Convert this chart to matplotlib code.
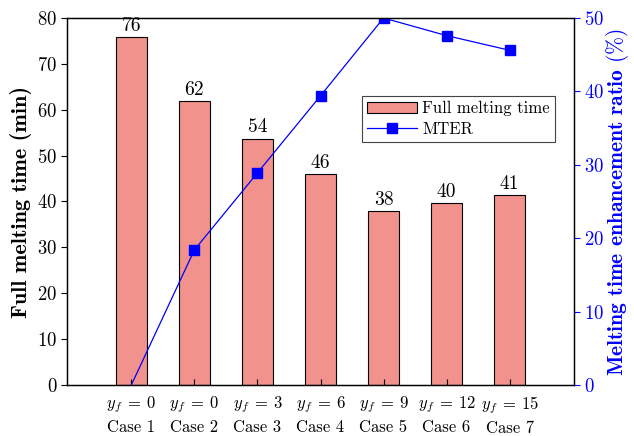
import matplotlib
matplotlib.use("Agg")
import matplotlib.pyplot as plt
import numpy as np

plt.rcParams['font.family'] = ['cmr10', 'DejaVu Serif']
plt.rcParams['mathtext.fontset'] = 'cm'
plt.rcParams['axes.formatter.use_mathtext'] = True

cases = ["Case 1", "Case 2", "Case 3", "Case 4", "Case 5", "Case 6", "Case 7"]
yf = ["0", "0", "3", "6", "9", "12", "15"]
melt_time = [75.9, 61.9, 53.7, 46.0, 37.9, 39.7, 41.4]
bar_labels = ["76", "62", "54", "46", "38", "40", "41"]
mter = [0.0, 18.4, 28.9, 39.4, 50.0, 47.6, 45.6]

fig = plt.figure(figsize=(6.34, 4.36), dpi=100)
ax = fig.add_axes([67/634, 1-385/436, (574-67)/634, (385-18)/436])
x = np.arange(len(cases))
bars = ax.bar(x, melt_time, width=0.5, color='#F1928C', edgecolor='black',
              linewidth=0.8, label='Full melting time')
for xi, h, lab in zip(x, melt_time, bar_labels):
    ax.text(xi, h + 0.5, lab, ha='center', va='bottom', fontsize=14)

ax.set_xlim(-1.02, 7.02)
ax.set_ylim(0, 80)
ax.set_yticks(np.arange(0, 81, 10))
ax.set_xticks(x)
ax.set_xticklabels([f"$y_f\\:=\\:{v}$\n{c}" for v, c in zip(yf, cases)], fontsize=12, linespacing=1.35)
ax.tick_params(axis='x', direction='in', length=4, pad=7, top=False)
ax.tick_params(axis='y', direction='out', length=4, labelsize=13.5, pad=3)
ax.set_ylabel('Full melting time (min)', fontsize=16, family=['cmb10', 'DejaVu Serif'], labelpad=4)

ax2 = ax.twinx()
ax2.plot(x, mter, color='blue', lw=0.9, marker='s', markersize=6.5,
         markevery=list(range(1, len(x))), label='MTER')
ax2.set_ylim(0, 50)
ax2.set_yticks(np.arange(0, 51, 10))
ax2.tick_params(axis='y', direction='out', length=4, colors='blue', labelsize=13.5, pad=3)
ax2.spines['right'].set_color('black')
ax2.set_ylabel(r'Melting time enhancement ratio $(\%)$', fontsize=15.5, color='blue',
               family=['cmb10', 'DejaVu Serif'], labelpad=0)
for a in (ax, ax2):
    for s in a.spines.values():
        s.set_linewidth(0.9)

h1, l1 = ax.get_legend_handles_labels()
h2, l2 = ax2.get_legend_handles_labels()
leg = ax2.legend(h1 + h2, l1 + l2, loc='upper left', bbox_to_anchor=((362-67)/507, 1-(96-18)/367),
                 fancybox=False, edgecolor='#444444', fontsize=12, framealpha=1,
                 handlelength=3, borderpad=0.3, labelspacing=0.3, handletextpad=0.3, borderaxespad=0)
leg.get_frame().set_linewidth(0.8)

fig.savefig('out.png', dpi=100)
